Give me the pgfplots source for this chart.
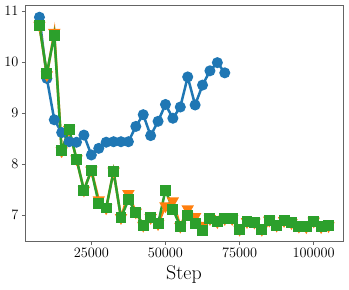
\documentclass[border=0pt]{standalone}
\usepackage{pgfplots}
\pgfplotsset{compat=1.18}
\definecolor{tabblue}{HTML}{1F77B4}
\definecolor{taborange}{HTML}{FF7F0E}
\definecolor{tabgreen}{HTML}{2CA02C}
\definecolor{spine}{RGB}{100,100,100}
\pgfplotstableread{
x y
7500 10.88
10000 9.68
12500 8.87
15000 8.62
17500 8.44
20000 8.43
22500 8.57
25000 8.18
27500 8.31
30000 8.43
32500 8.44
35000 8.44
37500 8.44
40000 8.74
42500 8.97
45000 8.56
47500 8.84
50000 9.17
52500 8.90
55000 9.12
57500 9.71
60000 9.16
62500 9.55
65000 9.83
67500 9.99
70000 9.79
}\blue
\pgfplotstableread{
x y
7500 10.72
10000 9.75
12500 10.58
15000 8.26
17500 8.68
20000 8.10
22500 7.49
25000 7.88
27500 7.30
30000 7.14
32500 7.86
35000 6.95
37500 7.42
40000 7.06
42500 6.80
45000 6.95
47500 6.83
50000 7.18
52500 7.28
55000 6.78
57500 7.12
60000 6.97
62500 6.80
65000 6.93
67500 6.87
70000 6.93
72500 6.93
75000 6.72
77500 6.87
80000 6.86
82500 6.72
85000 6.90
87500 6.80
90000 6.89
92500 6.85
95000 6.78
97500 6.77
100000 6.88
102500 6.77
105000 6.79
}\orange
\pgfplotstableread{
x y
7500 10.71
10000 9.78
12500 10.53
15000 8.26
17500 8.68
20000 8.10
22500 7.49
25000 7.88
27500 7.23
30000 7.14
32500 7.86
35000 6.95
37500 7.30
40000 7.06
42500 6.80
45000 6.95
47500 6.83
50000 7.49
52500 7.12
55000 6.78
57500 7.00
60000 6.84
62500 6.70
65000 6.93
67500 6.87
70000 6.93
72500 6.93
75000 6.72
77500 6.87
80000 6.86
82500 6.72
85000 6.90
87500 6.80
90000 6.89
92500 6.85
95000 6.78
97500 6.77
100000 6.88
102500 6.77
105000 6.79
}\green
\begin{document}
\begin{tikzpicture}
\begin{axis}[
  scale only axis,
  width=318bp, height=236.7bp,
  xmin=2625, xmax=109875,
  ymin=6.48, ymax=11.12,
  xtick={25000,50000,75000,100000},
  ytick={7,8,9,10,11},
  scaled x ticks=false,
  xticklabel style={/pgf/number format/fixed,/pgf/number format/1000 sep={}},
  tick label style={font=\fontsize{15.5}{18}\selectfont},
  xlabel={Step},
  xlabel style={font=\fontsize{20}{24}\selectfont, yshift=-1bp},
  axis line style={spine, line width=0.8bp},
  tick style={spine, line width=0.8bp},
  tick align=outside,
  major tick length=3bp,
  xtick pos=bottom, ytick pos=left,
  clip=false,
]
\addplot[tabblue, line width=2.5bp, mark=*, mark size=4.2bp, mark options={solid, fill=tabblue, draw=tabblue}] table[x=x,y=y] {\blue};
\addplot[taborange, line width=2.5bp, mark=triangle*, mark size=4.7bp, mark options={solid, rotate=180, fill=taborange, draw=taborange}] table[x=x,y=y] {\orange};
\addplot[tabgreen, line width=2.5bp, mark=square*, mark size=4.2bp, mark options={solid, fill=tabgreen, draw=tabgreen}] table[x=x,y=y] {\green};
\end{axis}
\pgfresetboundingbox
\path ([shift={(-25bp,-48.3bp)}]current axis.south west) rectangle ([shift={(6bp,5bp)}]current axis.north east);
\end{tikzpicture}
\end{document}
